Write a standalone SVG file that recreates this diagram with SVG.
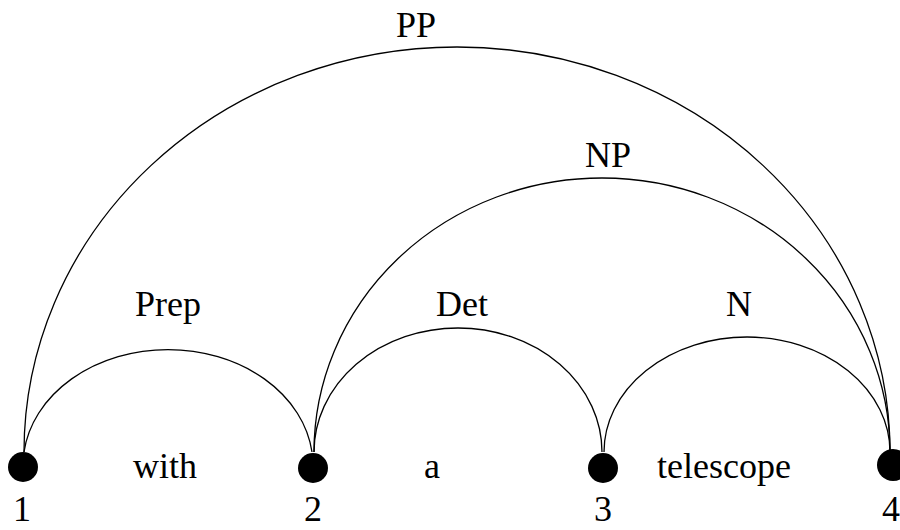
<svg xmlns="http://www.w3.org/2000/svg" width="900" height="530" viewBox="0 0 900 530">
  <style>
    .arc { fill: none; stroke: #000; stroke-width: 1.3; }
    .node { fill: #000; }
    text { font-family: "Liberation Serif", "Times New Roman", serif; font-size: 36px; fill: #000; text-anchor: middle; }
  </style>
  <rect width="900" height="530" fill="#fff"/>

  <!-- chart edges: half-ellipses spanning word positions -->
  <g id="edges">
    <path id="edge-pp" class="arc" d="M 24 452 A 433 405 0 0 1 890 452"/>
    <path id="edge-np" class="arc" d="M 314 452 A 288 274 0 0 1 890 452"/>
    <path id="edge-prep" class="arc" d="M 24 452 A 145 116 0 0 1 312 452"/>
    <path id="edge-det" class="arc" d="M 314 452 A 144 124 0 0 1 602 452"/>
    <path id="edge-n" class="arc" d="M 604 452 A 143 115 0 0 1 890 452"/>
  </g>

  <g id="edge-labels">
    <text x="416" y="37">PP</text>
    <text x="608" y="167">NP</text>
    <text x="168" y="316">Prep</text>
    <text x="462" y="316">Det</text>
    <text x="739" y="316">N</text>
  </g>

  <g id="node1">
    <circle class="node" cx="23" cy="467" r="15"/>
    <text x="22" y="521">1</text>
  </g>
  <g id="node2">
    <circle class="node" cx="313" cy="468" r="15"/>
    <text x="313" y="521">2</text>
  </g>
  <g id="node3">
    <circle class="node" cx="603" cy="468" r="15"/>
    <text x="603" y="521">3</text>
  </g>
  <g id="node4">
    <circle class="node" cx="893" cy="465" r="16"/>
    <text x="891" y="521">4</text>
  </g>

  <g id="words">
    <text x="165" y="478">with</text>
    <text x="432" y="478">a</text>
    <text x="724" y="478">telescope</text>
  </g>
</svg>
